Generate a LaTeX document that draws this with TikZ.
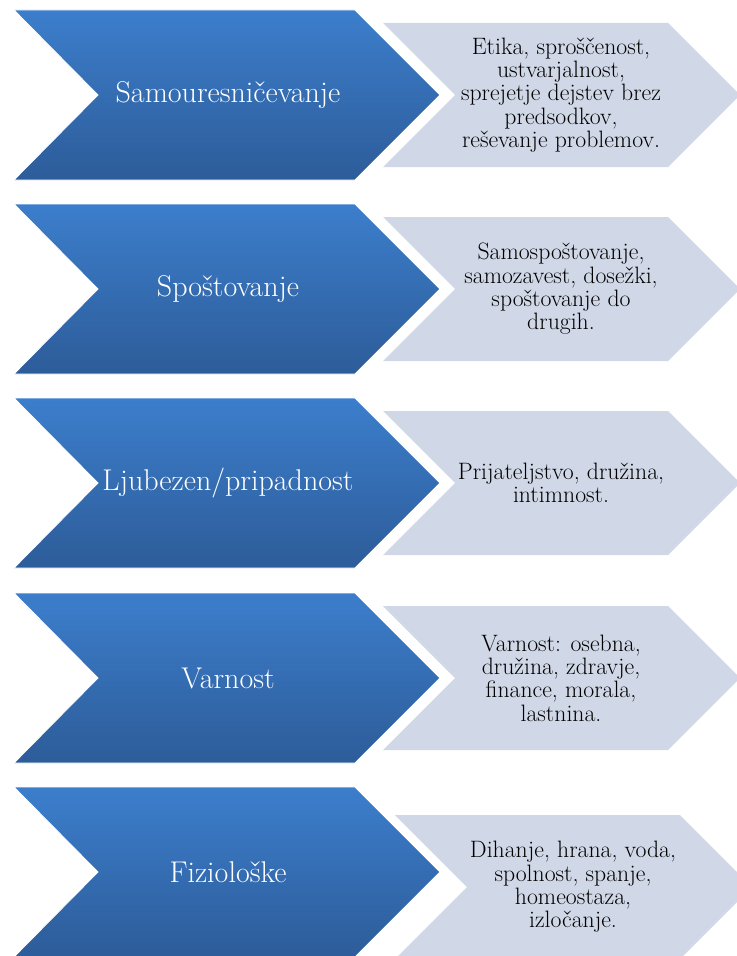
\documentclass[tikz,border=0pt]{standalone}
\definecolor{chevtop}{HTML}{3C7ECC}
\definecolor{chevbot}{HTML}{2D5C99}
\definecolor{chevpale}{HTML}{D0D8E7}
\tikzset{
    needbox/.style={top color=chevtop,bottom color=chevbot,draw=white,line width=0.6pt},
    detailbox/.style={fill=chevpale},
    needtext/.style={anchor=center,text=white,font=\fontsize{22.5}{26}\selectfont},
    detailtext/.style={anchor=center,align=center,text=black,font=\fontsize{17.8}{17.5}\selectfont}
}
\begin{document}
\begin{tikzpicture}[x=0.75pt,y=-0.75pt]
                \useasboundingbox (0,0) rectangle (737,956);
                %% right (pale) chevrons
                \fill[detailbox] (383,23) -- (668,23) -- (740,95) -- (668,167) -- (383,167) -- (455,95) -- cycle;
                \fill[detailbox] (383,217) -- (668,217) -- (740,289) -- (668,361) -- (383,361) -- (455,289) -- cycle;
                \fill[detailbox] (383,411) -- (668,411) -- (740,483) -- (668,555) -- (383,555) -- (455,483) -- cycle;
                \fill[detailbox] (383,606) -- (668,606) -- (740,678) -- (668,750) -- (383,750) -- (455,678) -- cycle;
                \fill[detailbox] (395,815) -- (680,815) -- (752,887) -- (680,959) -- (395,959) -- (467,887) -- cycle;
                %% left (blue) chevrons
                \shade[needbox] (14,10) -- (355,10) -- (440,95) -- (355,180) -- (14,180) -- (98,95) -- cycle;
                \shade[needbox] (14,204) -- (355,204) -- (440,289) -- (355,374) -- (14,374) -- (98,289) -- cycle;
                \shade[needbox] (14,398) -- (355,398) -- (440,483) -- (355,568) -- (14,568) -- (98,483) -- cycle;
                \shade[needbox] (14,593) -- (355,593) -- (440,678) -- (355,763) -- (14,763) -- (98,678) -- cycle;
                \shade[needbox] (14,787) -- (355,787) -- (440,872) -- (355,957) -- (14,957) -- (98,872) -- cycle;
                %% needs
                \node[needtext] (selfact) at (228,95) {Samouresničevanje};
                \node[needtext] (esteem) at (228,289) {Spoštovanje};
                \node[needtext] (love) at (228,483) {Ljubezen/pripadnost};
                \node[needtext] (safety) at (228,678) {Varnost};
                \node[needtext] (physio) at (228,872) {Fiziološke};
                %% details
                \node[detailtext] (selfactD) at (561,95) {Etika, sproščenost,\\ustvarjalnost,\\sprejetje dejstev brez\\predsodkov,\\reševanje problemov.};
                \node[detailtext] (esteemD) at (561,289) {Samospoštovanje,\\samozavest, dosežki,\\spoštovanje do\\drugih.};
                \node[detailtext] (loveD) at (561,483) {Prijateljstvo, družina,\\intimnost.};
                \node[detailtext] (safetyD) at (561,678) {Varnost: osebna,\\družina, zdravje,\\finance, morala,\\lastnina.};
                \node[detailtext] (physioD) at (573,887) {Dihanje, hrana, voda,\\spolnost, spanje,\\homeostaza,\\izločanje.};
            \end{tikzpicture}
\end{document}
